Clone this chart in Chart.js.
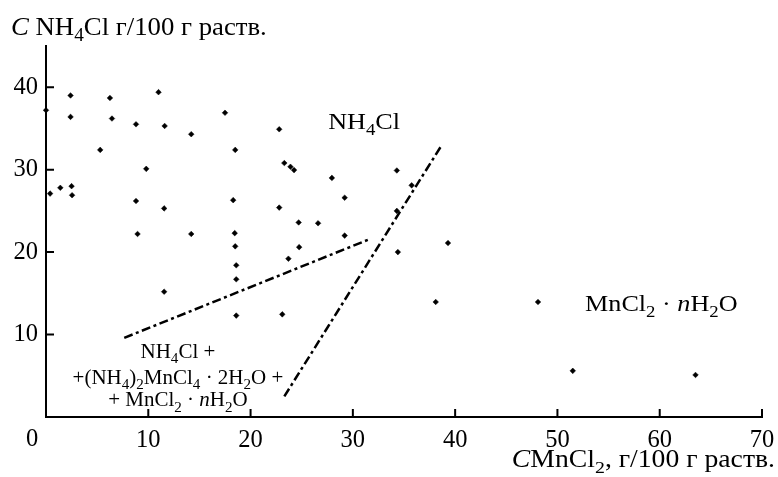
<!DOCTYPE html>
<html>
<head>
<meta charset="utf-8">
<script src="https://cdn.jsdelivr.net/npm/chart.js@4.4.1/dist/chart.umd.min.js"></script>
<style>
  html, body { margin: 0; padding: 0; background: #fff; }
  #wrap { width: 778px; height: 477px; }
</style>
</head>
<body>
<div id="wrap"><canvas id="chart"></canvas></div>
<script>
// Точки: C MnCl2 (x) и C NH4Cl (y), г/100 г раств.
const mncl2 = [0, 2.4, 2.4, 6.25, 6.45, 5.3, 8.8, 11.0, 11.6, 9.8, 14.2, 17.5, 18.5, 22.8, 23.3, 23.9, 24.25,
  0.4, 1.4, 2.5, 2.55, 8.8, 11.55, 8.95, 14.2, 18.3, 18.45, 18.5, 18.6, 18.6, 18.6, 11.55,
  22.8, 24.7, 26.6, 24.75, 23.7, 23.1, 34.3, 27.95, 29.2, 35.75, 34.3, 29.2, 39.3, 34.4,
  38.1, 48.1, 51.5, 63.5];
const nh4cl = [37.2, 39.0, 36.4, 38.7, 36.2, 32.4, 35.5, 39.4, 35.3, 30.1, 34.3, 36.9, 32.4, 34.9, 30.8, 30.35, 29.95,
  27.1, 27.8, 28.0, 26.9, 26.2, 25.3, 22.2, 22.2, 26.3, 22.3, 20.7, 18.4, 16.7, 12.3, 15.2,
  25.4, 23.6, 23.5, 20.6, 19.2, 12.45, 29.9, 29.0, 26.6, 28.1, 25.0, 22.0, 21.1, 20.0,
  13.95, 13.95, 5.6, 5.1];

// штрихпунктирные границы полей
const line1X = [7.65, 31.5];
const line1Y = [9.6, 21.5];
const line2X = [23.3, 38.7];
const line2Y = [2.5, 33.0];

const xTicks = [0, 10, 20, 30, 40, 50, 60, 70];
const yTicks = [10, 20, 30, 40];

const FONT = '"Liberation Serif", "Times New Roman", serif';

// подписи на поле графика (координаты в единицах осей)
const notes = [
  { x: 31.1, y: 34.9, size: 24, sx: 1.09, align: 'center', parts: [['NH'], ['4', 's'], ['Cl']] },
  { x: 52.7, y: 12.9, size: 24, sx: 1.09, align: 'left', parts: [['MnCl'], ['2', 's'], [' · '], ['n', 'i'], ['H'], ['2', 's'], ['O']] },
  { x: 12.9, y: 7.2, size: 21, sx: 1, align: 'center', parts: [['NH'], ['4', 's'], ['Cl +']] },
  { x: 12.9, y: 4.03, size: 21, sx: 1, align: 'center', parts: [['+(NH'], ['4', 's'], [')'], ['2', 's'], ['MnCl'], ['4', 's'], [' · 2H'], ['2', 's'], ['O +']] },
  { x: 12.9, y: 1.28, size: 21, sx: 1, align: 'center', parts: [['+ MnCl'], ['2', 's'], [' · '], ['n', 'i'], ['H'], ['2', 's'], ['O']] }
];

// текст с индексами; sx - растяжка по горизонтали
function drawRich(ctx, parts, x, y, size, align, sx) {
  sx = sx || 1;
  const fontFor = k => (k === 'i' ? 'italic ' : '') + (k === 's' ? size * 0.72 : size) + 'px ' + FONT;
  let w = 0;
  parts.forEach(p => { ctx.font = fontFor(p[1]); w += ctx.measureText(p[0]).width; });
  let cx = align === 'center' ? -w / 2 : align === 'right' ? -w : 0;
  ctx.save();
  ctx.translate(x, y);
  ctx.scale(sx, 1);
  ctx.textAlign = 'left';
  ctx.textBaseline = 'alphabetic';
  parts.forEach(p => {
    ctx.font = fontFor(p[1]);
    ctx.fillText(p[0], cx, p[1] === 's' ? size * 0.25 : 0);
    cx += ctx.measureText(p[0]).width;
  });
  ctx.restore();
}

const extras = {
  id: 'extras',
  afterDraw(chart) {
    const ctx = chart.ctx;
    const xs = chart.scales.x, ys = chart.scales.y;
    const x0 = xs.getPixelForValue(0), y0 = ys.getPixelForValue(0);
    ctx.save();
    ctx.strokeStyle = '#000';
    ctx.fillStyle = '#000';
    ctx.lineWidth = 2;
    // засечки внутрь
    ctx.beginPath();
    xTicks.filter(v => v > 0).forEach(v => {
      const px = xs.getPixelForValue(v);
      ctx.moveTo(px, y0); ctx.lineTo(px, y0 - 8);
    });
    yTicks.forEach(v => {
      const py = ys.getPixelForValue(v);
      ctx.moveTo(x0, py); ctx.lineTo(x0 + 8, py);
    });
    ctx.stroke();
    // ноль по оси x сдвинут влево
    ctx.font = '24.5px ' + FONT;
    ctx.textAlign = 'center';
    ctx.textBaseline = 'alphabetic';
    ctx.fillText('0', x0 - 14, y0 + 29);
    // подписи осей
    drawRich(ctx, [['C', 'i'], [' NH'], ['4', 's'], ['Cl г/100 г раств.']], 11, 35, 25, 'left', 1.07);
    drawRich(ctx, [['C', 'i'], ['MnCl'], ['2', 's'], [', г/100 г раств.']], 775, 467, 24.5, 'right', 1.13);
    notes.forEach(n => drawRich(ctx, n.parts, xs.getPixelForValue(n.x), ys.getPixelForValue(n.y), n.size, n.align, n.sx));
    ctx.restore();
  }
};

const boundary = (xv, yv) => ({
  type: 'line',
  data: xv.map((v, i) => ({ x: v, y: yv[i] })),
  showLine: true,
  borderColor: '#000',
  borderWidth: 2.5,
  borderDash: [9, 3.5, 3, 3.5],
  pointRadius: 0,
  fill: false
});

const ctx = document.getElementById('chart').getContext('2d');
new Chart(ctx, {
  type: 'scatter',
  data: {
    datasets: [
      {
        data: mncl2.map((v, i) => ({ x: v, y: nh4cl[i] })),
        pointStyle: 'rectRot',
        pointRadius: 2.8,
        pointBorderWidth: 0.5,
        backgroundColor: '#000',
        borderColor: '#000',
        clip: false
      },
      boundary(line1X, line1Y),
      boundary(line2X, line2Y)
    ]
  },
  options: {
    responsive: true,
    maintainAspectRatio: false,
    animation: false,
    events: [],
    layout: { padding: { top: 46, right: 16, left: 0, bottom: 0 } },
    plugins: { legend: { display: false }, tooltip: { enabled: false } },
    scales: {
      x: {
        type: 'linear',
        min: 0, max: 70,
        grid: { display: false, drawTicks: false },
        border: { display: true, color: '#000', width: 2 },
        afterFit: s => { s.height = 60; s.paddingLeft = 0; s.paddingRight = 0; },
        afterBuildTicks: s => { s.ticks = xTicks.map(v => ({ value: v })); },
        ticks: {
          padding: 9,
          color: '#000',
          font: { family: FONT, size: 24.5 },
          maxRotation: 0,
          callback: v => (v === 0 ? '' : v)
        }
      },
      y: {
        type: 'linear',
        min: 0, max: 45,
        grid: { display: false, drawTicks: false },
        border: { display: true, color: '#000', width: 2 },
        afterFit: s => { s.width = 46; s.paddingTop = 0; s.paddingBottom = 0; },
        afterBuildTicks: s => { s.ticks = yTicks.map(v => ({ value: v })); },
        ticks: {
          padding: 8,
          color: '#000',
          font: { family: FONT, size: 24.5 }
        }
      }
    }
  },
  plugins: [extras]
});
</script>
</body>
</html>
